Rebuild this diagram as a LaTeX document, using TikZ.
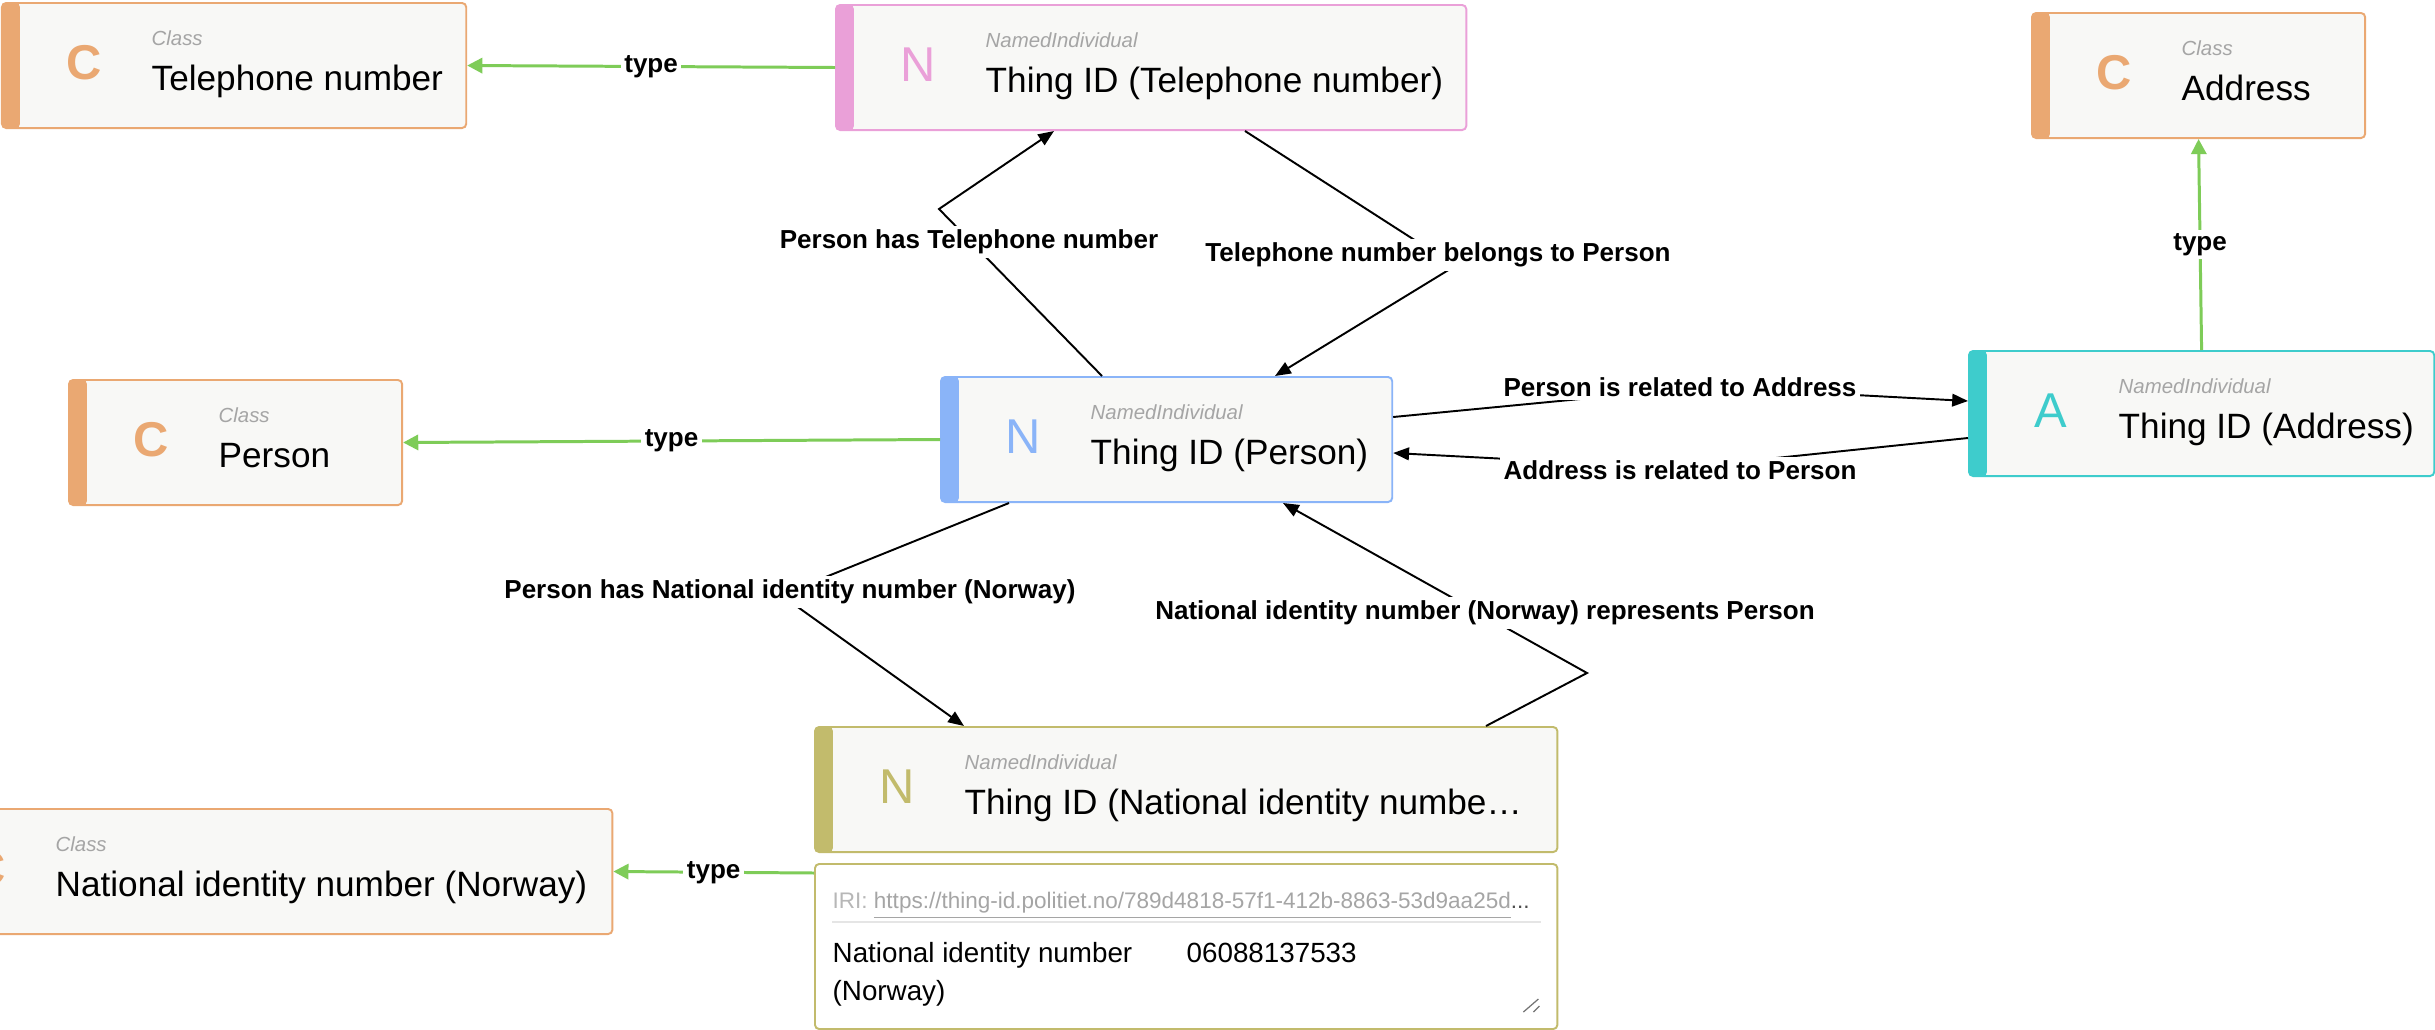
\documentclass[tikz,border=0pt]{standalone}
\usepackage{fontspec}
\setmainfont{Liberation Sans}
\usetikzlibrary{arrows.meta}
\definecolor{classorange}{RGB}{234,168,114}
\definecolor{phonepink}{RGB}{234,160,216}
\definecolor{personblue}{RGB}{138,180,248}
\definecolor{addressteal}{RGB}{62,204,204}
\definecolor{idolive}{RGB}{194,187,108}
\definecolor{boxfill}{RGB}{248,248,246}
\definecolor{typegreen}{RGB}{126,204,88}
\definecolor{hintgray}{RGB}{165,165,165}
\tikzset{
  entitybox/.style={rectangle,rounded corners=1.2pt,anchor=north west,
    fill=boxfill,line width=0.55pt,minimum height=1.25cm,inner sep=0pt},
  barfill/.style={path picture={\fill[#1] (path picture bounding box.north west)
    rectangle ([xshift=0.18cm]path picture bounding box.south west);}},
  iconlabel/.style={anchor=base,inner sep=0pt,font=\fontsize{13.9}{15}\selectfont},
  typelabel/.style={anchor=base west,inner sep=0pt,text=hintgray,
    font=\itshape\fontsize{5.8}{7}\selectfont},
  titlelabel/.style={anchor=base west,inner sep=0pt,font=\fontsize{10}{12}\selectfont},
  propbox/.style={rectangle,rounded corners=1.2pt,anchor=north west,draw=idolive,
    fill=white,line width=0.55pt,minimum width=7.42cm,minimum height=1.65cm,inner sep=0pt},
  proptext/.style={anchor=base west,inner sep=0pt,font=\fontsize{7.9}{9}\selectfont},
  typeedge/.style={draw=typegreen,line width=0.85pt,-{Triangle[length=4.3pt,width=4.3pt]}},
  reledge/.style={draw=black,line width=0.55pt,-{Triangle[length=4.5pt,width=3.6pt]}},
  edgelabel/.style={fill=white,inner sep=1pt,font=\bfseries\fontsize{7.4}{9}\selectfont}
}
% name, nw corner, width, colour, letter, type, title
\newcommand{\entitynode}[7]{%
  \node[entitybox,draw=#4,minimum width=#3,barfill=#4] (#1) at #2 {};
  \node[iconlabel,text=#4] at ([shift={(83,77)}]#1.north west) {#5};
  \node[typelabel] at ([shift={(150,43)}]#1.north west) {#6};
  \node[titlelabel] at ([shift={(150,88)}]#1.north west) {#7};
}

\begin{document}
\begin{tikzpicture}[x=0.01cm,y=-0.01cm]
  \path[use as bounding box,clip] (0,0) rectangle (2435,1030);
  \fill[white] (0,0) rectangle (2435,1030);

  \entitynode{ctel}{(1,2)}{4.64cm}{classorange}{\bfseries C}{Class}{Telephone number}
  \entitynode{ntel}{(835,4)}{6.30cm}{phonepink}{N}{NamedIndividual}{Thing ID (Telephone number)}
  \entitynode{caddr}{(2031,12)}{3.33cm}{classorange}{\bfseries C}{Class}{Address}
  \entitynode{cperson}{(68,379)}{3.33cm}{classorange}{\bfseries C}{Class}{Person}
  \entitynode{nperson}{(940,376)}{4.51cm}{personblue}{N}{NamedIndividual}{Thing ID (Person)}
  \entitynode{aaddr}{(1968,350)}{4.65cm}{addressteal}{A}{NamedIndividual}{Thing ID (Address)}
  \entitynode{nnat}{(814,726)}{7.42cm}{idolive}{N}{NamedIndividual}{Thing ID (National identity numbe…}
  \entitynode{cnat}{(-95,808)}{7.06cm}{classorange}{\bfseries C}{Class}{National identity number (Norway)}

  % property panel under the national id individual
  \node[propbox] (props) at (814,863) {};
  \node[anchor=base west,inner sep=0pt,font=\fontsize{6.4}{8}\selectfont]
    at ([shift={(18,45)}]props.north west)
    {\textcolor{hintgray!80}{IRI: }\textcolor{hintgray}{\underline{https://thing-id.politiet.no/789d4818-57f1-412b-8863-53d9aa25d}}\textcolor{black!70}{...}};
  \draw[black!10,line width=0.5pt] ([shift={(18,59)}]props.north west) -- ([shift={(-17,59)}]props.north east);
  \node[proptext] at ([shift={(18,99)}]props.north west) {National identity number};
  \node[proptext] at ([shift={(18,137)}]props.north west) {(Norway)};
  \node[proptext] at ([shift={(372,99)}]props.north west) {06088137533};
  \draw[black!55,line width=0.35pt] ([shift={(-35,-18)}]props.south east) -- ([shift={(-20,-31)}]props.south east);
  \draw[black!55,line width=0.35pt] ([shift={(-25,-18)}]props.south east) -- ([shift={(-19,-24)}]props.south east);
  \coordinate (natout) at ([shift={(0,10)}]props.north west);

  % type edges
  \draw[typeedge] (ntel.west) -- node[edgelabel] {type} (ctel.east);
  \draw[typeedge] (nperson.west) -- node[edgelabel] {type} (cperson.east);
  \draw[typeedge] (aaddr.north) -- node[edgelabel] {type} (caddr.south);
  \draw[typeedge] (natout) -- node[edgelabel] {type} (cnat.east);

  % relations
  \draw[reledge] ([shift={(162,0)}]nperson.north west) -- (939,209) -- ([shift={(219,0)}]ntel.south west)
    node[edgelabel] at (969,242) {Person has Telephone number};
  \draw[reledge] ([shift={(410,0)}]ntel.south west) -- (1455,266) -- ([shift={(335,0)}]nperson.north west)
    node[edgelabel] at (1438,255) {Telephone number belongs to Person};
  \draw[reledge] ([shift={(0,41)}]nperson.north east) -- (1705,387) -- ([shift={(0,51)}]aaddr.north west)
    node[edgelabel] at (1680,387) {Person is related to Address};
  \draw[reledge] ([shift={(0,88)}]aaddr.north west) -- (1680,468) -- ([shift={(0,77)}]nperson.north east)
    node[edgelabel] at (1680,470) {Address is related to Person};
  \draw[reledge] ([shift={(69,0)}]nperson.south west) -- (781,595) -- ([shift={(150,0)}]nnat.north west)
    node[edgelabel] at (790,592) {Person has National identity number (Norway)};
  \draw[reledge] ([shift={(672,0)}]nnat.north west) -- (1587,673) -- ([shift={(343,0)}]nperson.south west)
    node[edgelabel] at (1485,613) {National identity number (Norway) represents Person};
\end{tikzpicture}
\end{document}
